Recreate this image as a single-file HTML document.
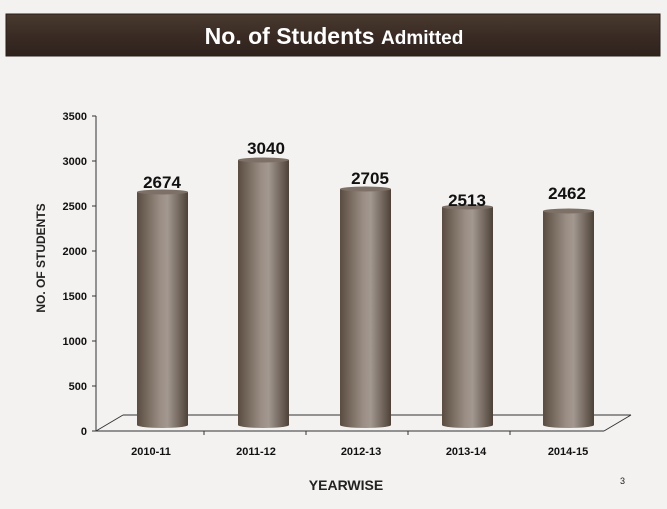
<!DOCTYPE html>
<html><head><style>
body{margin:0;width:667px;height:504px;background:#f3f2f0;overflow:hidden;font-family:"Liberation Sans",sans-serif;}
</style></head><body>
<svg width="667" height="504" xmlns="http://www.w3.org/2000/svg">
<defs>
<linearGradient id="cyl" x1="0" x2="1" y1="0" y2="0">
<stop offset="0" stop-color="#5a4c40"/><stop offset="0.45" stop-color="#9a8e84"/><stop offset="0.6" stop-color="#a39890"/><stop offset="1" stop-color="#4e4238"/>
</linearGradient>
<linearGradient id="bar" x1="0" x2="0" y1="0" y2="1">
<stop offset="0" stop-color="#4a3a30"/><stop offset="0.5" stop-color="#3a2c24"/><stop offset="1" stop-color="#2e221c"/>
</linearGradient>
</defs>
<rect x="0" y="0" width="667" height="504" fill="#f3f2f0"/>
<rect x="6" y="14" width="654" height="42" fill="url(#bar)" stroke="#2a1e18"/>
<text x="334" y="44" text-anchor="middle" fill="#fff" font-weight="bold" font-size="23"><tspan>No. of Students </tspan><tspan font-size="19">Admitted</tspan></text>
<g stroke="#333" stroke-width="1" fill="none">
<line x1="96" y1="116" x2="96" y2="431"/>
<line x1="96" y1="431" x2="604" y2="431"/>
<line x1="96" y1="431" x2="123" y2="415"/>
<line x1="123" y1="415" x2="631" y2="415"/>
<line x1="604" y1="431" x2="631" y2="415"/>
</g>
<g stroke="#333">
<line x1="92" y1="116" x2="96" y2="116"/><line x1="92" y1="161" x2="96" y2="161"/><line x1="92" y1="206" x2="96" y2="206"/><line x1="92" y1="251" x2="96" y2="251"/><line x1="92" y1="296" x2="96" y2="296"/><line x1="92" y1="341" x2="96" y2="341"/><line x1="92" y1="386" x2="96" y2="386"/><line x1="92" y1="431" x2="96" y2="431"/>
<line x1="204" y1="431" x2="204" y2="435"/><line x1="306" y1="431" x2="306" y2="435"/><line x1="408" y1="431" x2="408" y2="435"/><line x1="510" y1="431" x2="510" y2="435"/>
</g>
<g font-size="11" font-weight="bold" fill="#111" text-anchor="end">
<text x="87" y="120">3500</text><text x="87" y="165">3000</text><text x="87" y="210">2500</text><text x="87" y="255">2000</text><text x="87" y="300">1500</text><text x="87" y="345">1000</text><text x="87" y="390">500</text><text x="87" y="435">0</text>
</g>
<g>
<rect x="137" y="192" width="51" height="233" fill="url(#cyl)"/><ellipse cx="162.5" cy="425" rx="25.5" ry="3" fill="url(#cyl)"/><ellipse cx="162.5" cy="192" rx="25.5" ry="2.5" fill="#7d7066"/>
<rect x="238" y="160" width="51" height="265" fill="url(#cyl)"/><ellipse cx="263.5" cy="425" rx="25.5" ry="3" fill="url(#cyl)"/><ellipse cx="263.5" cy="160" rx="25.5" ry="2.5" fill="#7d7066"/>
<rect x="340" y="189" width="51" height="236" fill="url(#cyl)"/><ellipse cx="365.5" cy="425" rx="25.5" ry="3" fill="url(#cyl)"/><ellipse cx="365.5" cy="189" rx="25.5" ry="2.5" fill="#7d7066"/>
<rect x="442" y="207" width="51" height="218" fill="url(#cyl)"/><ellipse cx="467.5" cy="425" rx="25.5" ry="3" fill="url(#cyl)"/><ellipse cx="467.5" cy="207" rx="25.5" ry="2.5" fill="#7d7066"/>
<rect x="543" y="211" width="51" height="214" fill="url(#cyl)"/><ellipse cx="568.5" cy="425" rx="25.5" ry="3" fill="url(#cyl)"/><ellipse cx="568.5" cy="211" rx="25.5" ry="2.5" fill="#7d7066"/>
</g>
<g font-size="17" font-weight="bold" fill="#111" text-anchor="middle">
<text x="162" y="188">2674</text><text x="266" y="154">3040</text><text x="370" y="184">2705</text><text x="467" y="206">2513</text><text x="567" y="199">2462</text>
</g>
<g font-size="11" font-weight="bold" fill="#111" text-anchor="middle">
<text x="151" y="455">2010-11</text><text x="256" y="455">2011-12</text><text x="361" y="455">2012-13</text><text x="466" y="455">2013-14</text><text x="568" y="455">2014-15</text>
</g>
<text x="346" y="490" font-size="14" font-weight="bold" fill="#222" text-anchor="middle">YEARWISE</text>
<text transform="translate(45,258) rotate(-90)" font-size="12" font-weight="bold" fill="#222" text-anchor="middle">NO. OF STUDENTS</text>
<text x="620" y="484" font-size="9" fill="#222">3</text>
</svg>
</body></html>
